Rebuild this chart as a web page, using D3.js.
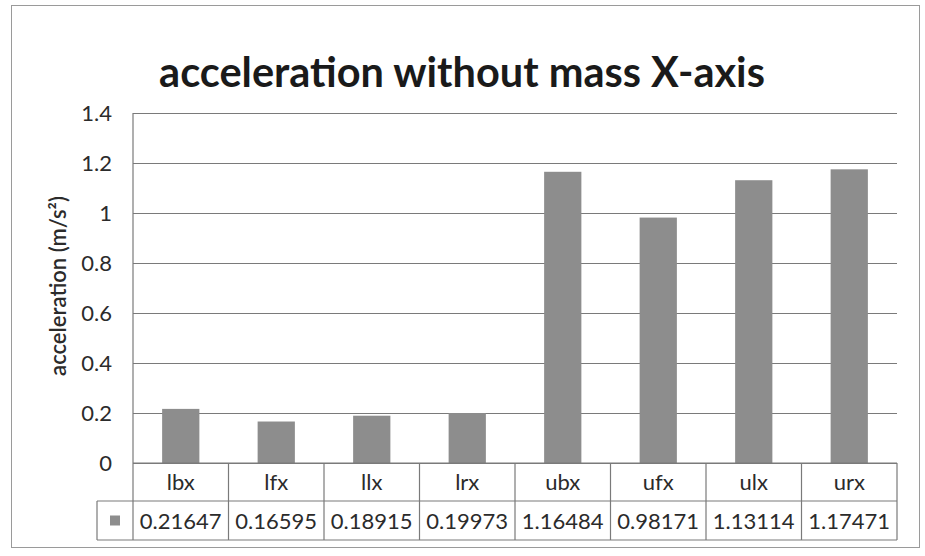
<!DOCTYPE html>
<html>
<head>
<meta charset="utf-8">
<script src="https://cdn.jsdelivr.net/npm/d3@7"></script>
<style>
  html, body { margin: 0; padding: 0; background: #ffffff; }
  svg { display: block; font-family: Lato, "Open Sans", sans-serif; }
</style>
</head>
<body>
<svg id="chart" width="925" height="556"></svg>
<script>
// Sensor positions and their measured acceleration along X
const categories = ["lbx", "lfx", "llx", "lrx", "ubx", "ufx", "ulx", "urx"];
const values = [0.21647, 0.16595, 0.18915, 0.19973, 1.16484, 0.98171, 1.13114, 1.17471];
const valueLabels = ["0.21647", "0.16595", "0.18915", "0.19973", "1.16484", "0.98171", "1.13114", "1.17471"];
const yTicks = [0, 0.2, 0.4, 0.6, 0.8, 1, 1.2, 1.4];
const titleText = "acceleration without mass X-axis";
const yTitle = "acceleration (m/s²)";

const W = 925, H = 556;
const plot = { left: 133, right: 897, top: 113, bottom: 463 };
const table = { legendLeft: 97, rowSplit: 501, bottom: 540 };
const lineColor = "#7a7a7a";
const barColor = "#8d8d8d";
const textColor = "#2b2b2b";
const bodySize = 22;

const svg = d3.select("#chart");

// Outer chart frame
svg.append("rect")
  .attr("x", 11.5).attr("y", 5.5)
  .attr("width", 908).attr("height", 542)
  .attr("fill", "#fff")
  .attr("stroke", "#9a9a9a").attr("stroke-width", 1);

// Title
svg.append("text")
  .attr("x", 462).attr("y", 87)
  .attr("text-anchor", "middle")
  .attr("font-size", 41.5).attr("font-weight", 700)
  .attr("fill", "#1a1a1a")
  .text(titleText);

const x = d3.scaleBand()
  .domain(categories)
  .range([plot.left, plot.right])
  .paddingInner(0.61)
  .paddingOuter(0.305);

const xCell = d3.scaleBand()
  .domain(categories)
  .range([plot.left, plot.right]);

const y = d3.scaleLinear()
  .domain([0, 1.4])
  .range([plot.bottom, plot.top]);

// Horizontal gridlines and tick labels
const yAxis = d3.axisLeft(y)
  .tickValues(yTicks)
  .tickSize(-(plot.right - plot.left))
  .tickPadding(21)
  .tickFormat(d3.format("~g"));

const gy = svg.append("g")
  .attr("transform", `translate(${plot.left},0)`)
  .call(yAxis);
gy.select(".domain").remove();
gy.selectAll(".tick line")
  .attr("stroke", lineColor).attr("stroke-width", 1.2);
gy.selectAll(".tick text")
  .attr("font-size", bodySize).attr("fill", textColor)
  .attr("font-family", "Lato, 'Open Sans', sans-serif");

// Left edge of the plot area
svg.append("line")
  .attr("x1", plot.left).attr("x2", plot.left)
  .attr("y1", plot.top).attr("y2", table.bottom)
  .attr("stroke", lineColor).attr("stroke-width", 1.2);

// Y axis title
svg.append("text")
  .attr("transform", `translate(66,${(plot.top + plot.bottom) / 2 - 2}) rotate(-90)`)
  .attr("text-anchor", "middle")
  .attr("font-size", 22).attr("font-weight", 600)
  .attr("fill", textColor)
  .text(yTitle);

// Bars
svg.append("g").selectAll("rect")
  .data(categories)
  .join("rect")
  .attr("x", d => x(d))
  .attr("width", x.bandwidth())
  .attr("y", (d, i) => y(values[i]))
  .attr("height", (d, i) => y(0) - y(values[i]))
  .attr("fill", barColor);

// Data table below the axis
const tg = svg.append("g").attr("stroke", lineColor).attr("stroke-width", 1.2);
// zero line / table top
tg.append("line")
  .attr("x1", plot.left).attr("x2", plot.right)
  .attr("y1", plot.bottom).attr("y2", plot.bottom);
// row separator and bottom
[table.rowSplit, table.bottom].forEach(yy => {
  tg.append("line")
    .attr("x1", table.legendLeft).attr("x2", plot.right)
    .attr("y1", yy).attr("y2", yy);
});
// legend cell left edge
tg.append("line")
  .attr("x1", table.legendLeft).attr("x2", table.legendLeft)
  .attr("y1", table.rowSplit).attr("y2", table.bottom);
// column separators
tg.selectAll("line.col")
  .data(categories)
  .join("line")
  .attr("class", "col")
  .attr("x1", d => xCell(d) + xCell.bandwidth())
  .attr("x2", d => xCell(d) + xCell.bandwidth())
  .attr("y1", plot.bottom).attr("y2", table.bottom);

// Category labels
svg.append("g").selectAll("text")
  .data(categories)
  .join("text")
  .attr("x", d => xCell(d) + xCell.bandwidth() / 2)
  .attr("y", (plot.bottom + table.rowSplit) / 2 + 8)
  .attr("text-anchor", "middle")
  .attr("font-size", bodySize).attr("fill", textColor)
  .text(d => d);

// Value labels
svg.append("g").selectAll("text")
  .data(valueLabels)
  .join("text")
  .attr("x", (d, i) => xCell(categories[i]) + xCell.bandwidth() / 2)
  .attr("y", (table.rowSplit + table.bottom) / 2 + 8)
  .attr("text-anchor", "middle")
  .attr("font-size", bodySize).attr("fill", textColor)
  .text(d => d);

// Legend key
svg.append("rect")
  .attr("x", (table.legendLeft + plot.left) / 2 - 5)
  .attr("y", (table.rowSplit + table.bottom) / 2 - 5)
  .attr("width", 10).attr("height", 10)
  .attr("fill", barColor);
</script>
</body>
</html>
